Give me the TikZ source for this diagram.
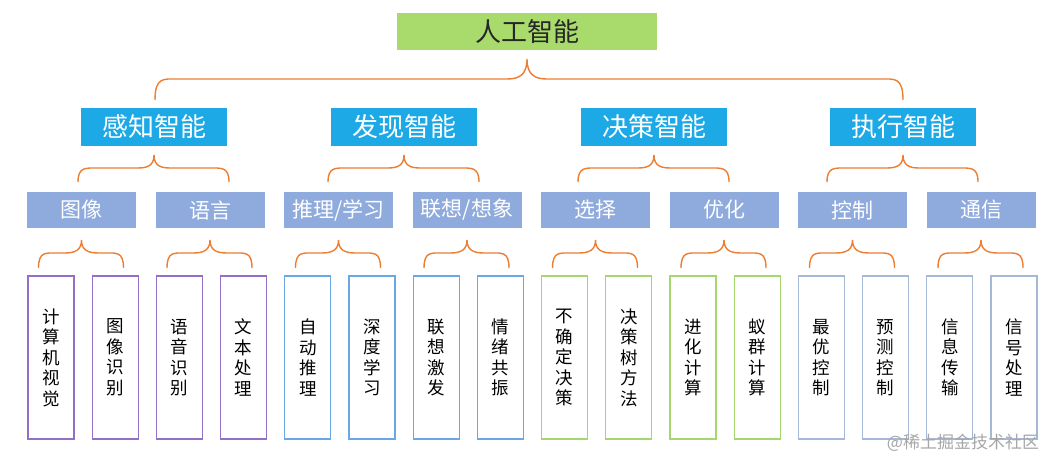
\documentclass[tikz,border=0pt]{standalone}
\usepackage{fontspec}
\newfontfamily\cjk{Noto Sans CJK SC}
\definecolor{topgreen}{HTML}{A9DA6C}
\definecolor{areablue}{HTML}{1CA9E6}
\definecolor{subblue}{HTML}{8FAADC}
\definecolor{braceorange}{HTML}{ED7D31}
\definecolor{leafpurple}{HTML}{9370C8}
\definecolor{leafblue}{HTML}{6AA6E8}
\definecolor{leafgreen}{HTML}{A4D86E}
\definecolor{leafgrey}{HTML}{A5B8DA}
\tikzset{
  topbox/.style={fill=topgreen, minimum width=260pt, minimum height=37pt, inner sep=0pt,
    text=black!85, font=\cjk\fontsize{26}{28}\selectfont},
  areabox/.style={fill=areablue, minimum width=146pt, minimum height=38pt, inner sep=0pt,
    text=white, font=\cjk\fontsize{26}{28}\selectfont},
  subbox/.style={fill=subblue, minimum width=109pt, minimum height=36pt, inner sep=0pt,
    text=white, font=\cjk\fontsize{21}{23}\selectfont},
  leafbox/.style={draw=#1, line width=1.2pt, minimum width=46pt, minimum height=163pt,
    inner sep=0pt, align=center, text=black, font=\cjk\fontsize{17.5}{20.5}\selectfont},
  bracestyle/.style={draw=braceorange, line width=1.4pt},
}
% curly brace: left end, tip, right end, tip y, bar y, end y, end radius, tip radius
\newcommand{\curlybrace}[8]{%
  \draw[bracestyle] (#1,#6) .. controls (#1,#5-0.1*#6+0.1*#5) and (#1+0.4*#7,#5) .. (#1+#7,#5)
    -- (#2-#8,#5) .. controls (#2-0.4*#8,#5) and (#2,#5-0.2*#5+0.2*#4) .. (#2,#4)
    .. controls (#2,#5-0.2*#5+0.2*#4) and (#2+0.4*#8,#5) .. (#2+#8,#5)
    -- (#3-#7,#5) .. controls (#3-0.4*#7,#5) and (#3,#5-0.1*#6+0.1*#5) .. (#3,#6);}
\begin{document}
\begin{tikzpicture}[x=1pt,y=-1pt]
  \useasboundingbox (0,0) rectangle (1059,468);

  \node[topbox] (ai) at (527,31.5) {人工智能};

  \node[areabox] (perc) at (154,127) {感知智能};
  \node[areabox] (disc) at (404,127) {发现智能};
  \node[areabox] (deci) at (654,127) {决策智能};
  \node[areabox] (exec) at (903,127) {执行智能};

  \node[subbox] (img) at (81.5,210) {图像};
  \node[subbox] (lang) at (210,210) {语言};
  \node[subbox] (reas) at (338.5,210) {推理/学习};
  \node[subbox] (assoc) at (467,210) {联想/想象};
  \node[subbox] (sel) at (595.5,210) {选择};
  \node[subbox] (opt) at (724,210) {优化};
  \node[subbox] (ctrl) at (852.5,210) {控制};
  \node[subbox] (comm) at (981,210) {通信};

  \node[leafbox=leafpurple] (cv) at (51,357.5) {计\\算\\机\\视\\觉};
  \node[leafbox=leafpurple] (imgrec) at (115.2,357.5) {图\\像\\识\\别};
  \node[leafbox=leafpurple] (speech) at (179.4,357.5) {语\\音\\识\\别};
  \node[leafbox=leafpurple] (textproc) at (243.6,357.5) {文\\本\\处\\理};
  \node[leafbox=leafblue] (autoreason) at (307.8,357.5) {自\\动\\推\\理};
  \node[leafbox=leafblue] (deep) at (372,357.5) {深\\度\\学\\习};
  \node[leafbox=leafblue] (inspire) at (436.2,357.5) {联\\想\\激\\发};
  \node[leafbox=leafblue] (empathy) at (500.4,357.5) {情\\绪\\共\\振};
  \node[leafbox=leafgreen] (uncert) at (564.6,357.5) {不\\确\\定\\决\\策};
  \node[leafbox=leafgreen] (dtree) at (628.8,357.5) {决\\策\\树\\方\\法};
  \node[leafbox=leafgreen] (evo) at (693,357.5) {进\\化\\计\\算};
  \node[leafbox=leafgreen] (swarm) at (757.2,357.5) {蚁\\群\\计\\算};
  \node[leafbox=leafgrey] (optctrl) at (821.4,357.5) {最\\优\\控\\制};
  \node[leafbox=leafgrey] (predctrl) at (885.6,357.5) {预\\测\\控\\制};
  \node[leafbox=leafgrey] (trans) at (949.8,357.5) {信\\息\\传\\输};
  \node[leafbox=leafgrey] (signal) at (1014,357.5) {信\\号\\处\\理};

  % braces
  \curlybrace{155}{527}{903}{59}{79}{100}{22}{20}
  \curlybrace{78}{154}{229}{155}{168}{182}{20}{16}
  \curlybrace{328}{404}{479}{155}{168}{182}{20}{16}
  \curlybrace{578}{654}{729}{155}{168}{182}{20}{16}
  \curlybrace{827}{903}{978}{155}{168}{182}{20}{16}
  \curlybrace{38.5}{81.5}{123.5}{240}{253}{268}{18}{17}
  \curlybrace{167}{210}{252}{240}{253}{268}{18}{17}
  \curlybrace{295.5}{338.5}{380.5}{240}{253}{268}{18}{17}
  \curlybrace{424}{467}{509}{240}{253}{268}{18}{17}
  \curlybrace{552.5}{595.5}{637.5}{240}{253}{268}{18}{17}
  \curlybrace{681}{724}{766}{240}{253}{268}{18}{17}
  \curlybrace{809.5}{852.5}{894.5}{240}{253}{268}{18}{17}
  \curlybrace{938}{981}{1023}{240}{253}{268}{18}{17}

  \node[text=black!35, font=\cjk\fontsize{17}{19}\selectfont] (mark) at (963,443) {@稀土掘金技术社区};
\end{tikzpicture}
\end{document}
